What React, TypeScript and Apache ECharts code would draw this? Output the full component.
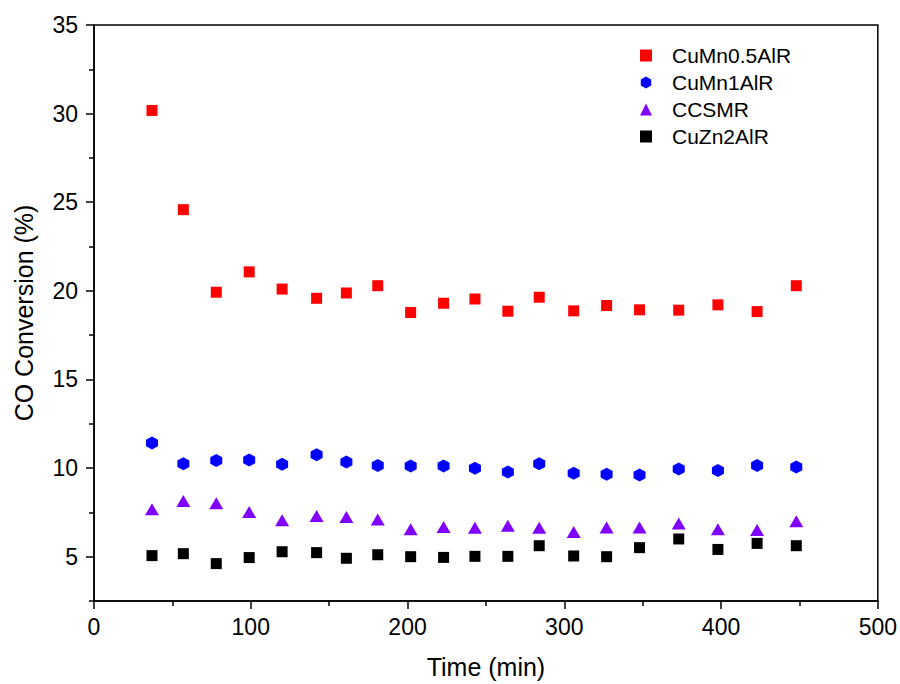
import React, { useEffect, useRef } from "react";
import * as echarts from "echarts";

const times = [37, 57, 78, 99, 120, 142, 161, 181, 202, 223, 243, 264, 284, 306, 327, 348, 373, 398, 423, 448];
const cuMn05 = [30.18, 24.58, 19.92, 21.07, 20.1, 19.58, 19.88, 20.29, 18.78, 19.3, 19.54, 18.85, 19.64, 18.87, 19.17, 18.93, 18.91, 19.21, 18.83, 20.29];
const cuMn1 = [11.42, 10.25, 10.43, 10.45, 10.21, 10.75, 10.34, 10.14, 10.12, 10.12, 9.99, 9.78, 10.25, 9.71, 9.65, 9.61, 9.95, 9.87, 10.15, 10.06];
const ccsmr = [7.67, 8.14, 8.02, 7.52, 7.06, 7.3, 7.24, 7.1, 6.55, 6.68, 6.63, 6.74, 6.63, 6.4, 6.65, 6.65, 6.87, 6.55, 6.5, 7.0];
const cuZn2 = [5.06, 5.17, 4.61, 4.95, 5.28, 5.23, 4.91, 5.11, 5.0, 4.96, 5.02, 5.02, 5.62, 5.04, 5.0, 5.51, 6.0, 5.41, 5.75, 5.62];

const seriesNames = ["CuMn0.5AlR", "CuMn1AlR", "CCSMR", "CuZn2AlR"];
const yMajorTicks = [5, 10, 15, 20, 25, 30, 35];
const yMinorTicks = [2.5, 7.5, 12.5, 17.5, 22.5, 27.5, 32.5];

const hexagon = "path://M0,-1 L0.866,-0.5 L0.866,0.5 L0,1 L-0.866,0.5 L-0.866,-0.5 Z";
const FONT = "Liberation Sans, Arial, sans-serif";

function pairs(vals: number[]) {
  return times.map((t, i) => [t, vals[i]]);
}

export default function App() {
  const ref = useRef<HTMLDivElement>(null);
  useEffect(() => {
    if (!ref.current) return;
    const chart = echarts.init(ref.current, null, { renderer: "svg" });
    const axisLine = { show: true, lineStyle: { color: "#000", width: 1.5 } };
    chart.setOption({
      animation: false,
      backgroundColor: "#fff",
      grid: {
        left: 94,
        right: 22,
        top: 25,
        bottom: 78,
        show: true,
        borderColor: "#000",
        borderWidth: 1.5,
      },
      legend: {
        orient: "vertical",
        left: 635,
        top: 40,
        itemWidth: 12,
        itemHeight: 12,
        itemGap: 6,
        textStyle: { fontSize: 21, fontFamily: FONT, color: "#000", lineHeight: 21, padding: [0, 0, 0, 15] },
        data: seriesNames,
      },
      xAxis: {
        type: "value",
        min: 0,
        max: 500,
        interval: 100,
        name: "Time (min)",
        nameLocation: "middle",
        nameGap: 53,
        nameTextStyle: { fontSize: 25, fontFamily: FONT, color: "#000" },
        axisLine,
        axisTick: { show: true, length: 8, lineStyle: { color: "#000", width: 1.5 } },
        minorTick: { show: true, splitNumber: 2, length: 5, lineStyle: { color: "#000", width: 1.5 } },
        axisLabel: { fontSize: 23, fontFamily: FONT, color: "#000", margin: 14 },
        splitLine: { show: false },
      },
      yAxis: [
        {
          type: "value",
          min: 2.5,
          max: 35,
          name: "CO Conversion (%)",
          nameLocation: "middle",
          nameGap: 58,
          nameTextStyle: { fontSize: 25, fontFamily: FONT, color: "#000" },
          axisLine,
          axisTick: { show: true, length: 8, customValues: yMajorTicks, lineStyle: { color: "#000", width: 1.5 } },
          axisLabel: { fontSize: 23, fontFamily: FONT, color: "#000", margin: 16, customValues: yMajorTicks },
          splitLine: { show: false },
        },
        {
          type: "value",
          min: 2.5,
          max: 35,
          position: "left",
          axisLine: { show: false },
          axisTick: { show: true, length: 5, customValues: yMinorTicks, lineStyle: { color: "#000", width: 1.5 } },
          axisLabel: { show: false },
          splitLine: { show: false },
        },
      ],
      series: [
        {
          name: seriesNames[0],
          type: "scatter",
          symbol: "rect",
          symbolSize: 11,
          itemStyle: { color: "#FF0000", opacity: 1 },
          data: pairs(cuMn05),
        },
        {
          name: seriesNames[1],
          type: "scatter",
          symbol: hexagon,
          symbolSize: [12, 13],
          itemStyle: { color: "#0000FF", opacity: 1 },
          data: pairs(cuMn1),
        },
        {
          name: seriesNames[2],
          type: "scatter",
          symbol: "triangle",
          symbolSize: [14, 12],
          itemStyle: { color: "#8000FF", opacity: 1 },
          data: pairs(ccsmr),
        },
        {
          name: seriesNames[3],
          type: "scatter",
          symbol: "rect",
          symbolSize: 11,
          itemStyle: { color: "#000000", opacity: 1 },
          data: pairs(cuZn2),
        },
      ],
    });
    return () => chart.dispose();
  }, []);
  return (
    <div
      ref={ref}
      style={{ position: "absolute", left: 0, top: 0, width: 900, height: 684 }}
    />
  );
}
